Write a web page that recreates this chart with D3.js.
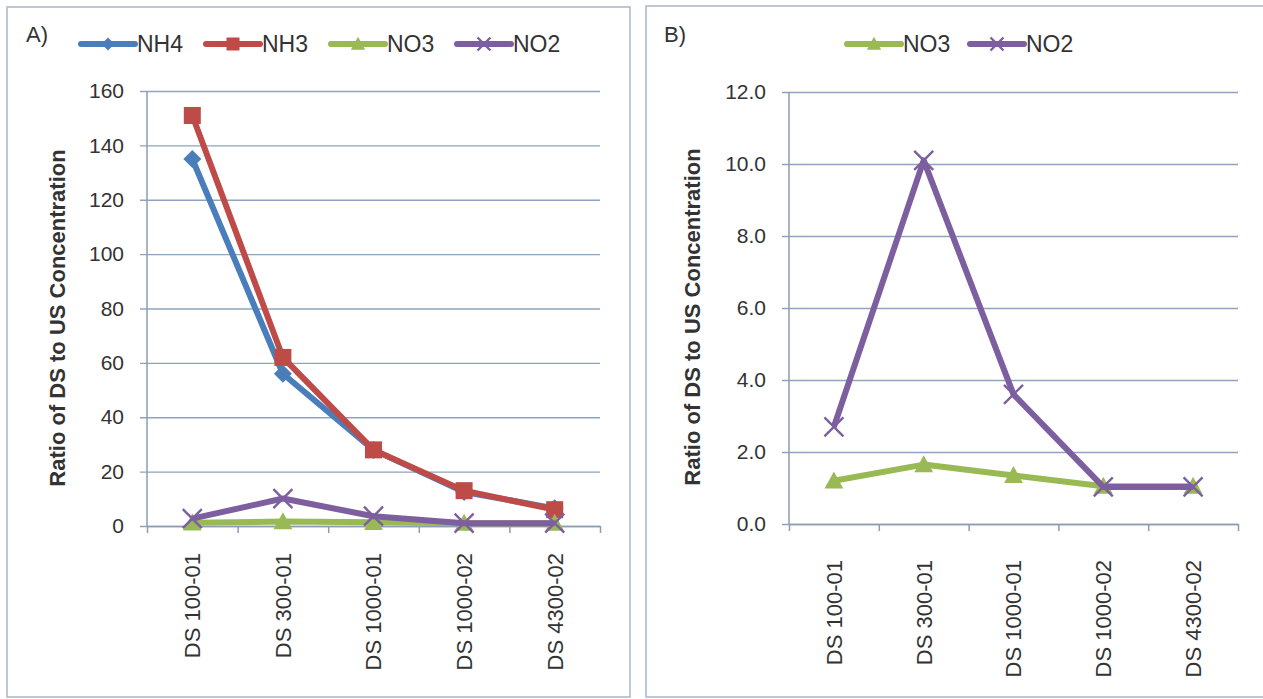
<!DOCTYPE html>
<html lang="en">
<head>
<meta charset="UTF-8">
<title>Ratio of DS to US Concentration</title>
<script src="https://d3js.org/d3.v7.min.js"></script>
<style>
  body { margin: 0; background: #fff; }
  svg { display: block; }
  text { font-family: "Liberation Sans", Arial, sans-serif; fill: #333; }
</style>
</head>
<body>
<div id="chart"></div>
<script>
// data
const categories = ["DS 100-01", "DS 300-01", "DS 1000-01", "DS 1000-02", "DS 4300-02"];
const nh4 = [135, 56, 28, 12.5, 6.5];
const nh3 = [151, 62, 28, 13, 6];
const no3 = [1.2, 1.65, 1.35, 1.05, 1.05];
const no2 = [2.7, 10.1, 3.6, 1.03, 1.03];
const ticksA = [0, 20, 40, 60, 80, 100, 120, 140, 160];
const ticksB = [0, 2, 4, 6, 8, 10, 12];

const colors = { NH4: "#4a7ebb", NH3: "#be4b48", NO3: "#98b954", NO2: "#7d5fa0" };
const markers = { NH4: "diamond", NH3: "square", NO3: "triangle", NO2: "cross" };

const W = 1263, H = 699;
const svg = d3.select("#chart").append("svg").attr("width", W).attr("height", H);

// panel frames
svg.append("rect").attr("x", 7).attr("y", 7).attr("width", 623).attr("height", 690)
  .attr("fill", "none").attr("stroke", "#a9b6c8").attr("stroke-width", 1.5);
svg.append("rect").attr("x", 646).attr("y", 6).attr("width", 640).attr("height", 691)
  .attr("fill", "none").attr("stroke", "#a9b6c8").attr("stroke-width", 1.5);

function marker(g, type, color, s) {
  const h = s / 2;
  if (type === "diamond") {
    g.append("path").attr("d", `M0,${-h}L${h},0L0,${h}L${-h},0Z`).attr("fill", color);
  } else if (type === "square") {
    g.append("rect").attr("x", -h).attr("y", -h).attr("width", s).attr("height", s)
      .attr("fill", color);
  } else if (type === "triangle") {
    g.append("path").attr("d", `M0,${-s * 0.55}L${s * 0.55},${s * 0.45}L${-s * 0.55},${s * 0.45}Z`)
      .attr("fill", color);
  } else {
    g.append("path").attr("d", `M${-h},${-h}L${h},${h}M${-h},${h}L${h},${-h}`)
      .attr("stroke", color).attr("stroke-width", 2.4).attr("fill", "none");
  }
}

function drawPanel(p) {
  const g = svg.append("g");
  const x = d3.scaleLinear().domain([0, categories.length]).range([p.left, p.right]);
  const y = d3.scaleLinear().domain([0, p.max]).range([p.bottom, p.top]);

  // gridlines + y ticks
  g.append("g").attr("transform", `translate(${p.left},0)`)
    .call(d3.axisLeft(y).tickValues(p.ticks).tickFormat(p.fmt)
      .tickSize(-(p.right - p.left)).tickSizeOuter(0).tickPadding(23))
    .call(a => a.select(".domain").remove())
    .call(a => a.selectAll(".tick line").attr("x1", -7).attr("stroke", "#8ea3bf").attr("stroke-width", 1.4))
    .call(a => a.selectAll(".tick text").attr("font-size", 21).attr("fill", "#333")
      .style("font-family", "Liberation Sans, Arial, sans-serif"));

  // y axis line
  g.append("line").attr("x1", p.left).attr("x2", p.left).attr("y1", p.top).attr("y2", p.bottom)
    .attr("stroke", "#8c9cb2").attr("stroke-width", 1.5);

  // x axis with boundary ticks
  g.append("g").attr("transform", `translate(0,${p.bottom})`)
    .call(d3.axisBottom(x).tickValues(d3.range(categories.length + 1)).tickFormat("")
      .tickSize(7).tickSizeOuter(0))
    .call(a => a.select(".domain").attr("stroke", "#8c9cb2").attr("stroke-width", 1.5))
    .call(a => a.selectAll(".tick line").attr("stroke", "#8c9cb2").attr("stroke-width", 1.5));

  // category labels, rotated
  g.selectAll(".cat").data(categories).join("text")
    .attr("transform", (d, i) => `translate(${x(i + 0.5)},${p.labelTop}) rotate(-90)`)
    .attr("text-anchor", "end").attr("dy", "0.36em")
    .attr("font-size", 22).text(d => d);

  // y title
  g.append("text")
    .attr("transform", `translate(${p.titleX},${p.titleY}) rotate(-90)`)
    .attr("text-anchor", "middle").attr("dy", "0.35em")
    .attr("font-size", 22).attr("font-weight", "bold").text("Ratio of DS to US Concentration");

  // panel letter
  g.append("text").attr("x", p.letterX).attr("y", 42).attr("font-size", 22).text(p.letter);

  // series
  const line = d3.line().x((d, i) => x(i + 0.5)).y(d => y(d));
  p.series.forEach(s => {
    g.append("path").datum(s.values).attr("d", line)
      .attr("fill", "none").attr("stroke", colors[s.name]).attr("stroke-width", 6)
      .attr("stroke-linejoin", "round");
    s.values.forEach((v, i) => {
      const m = g.append("g").attr("transform", `translate(${x(i + 0.5)},${y(v)})`);
      marker(m, markers[s.name], colors[s.name], s.name === "NO2" ? 19 : s.name === "NH4" ? 18 : 17);
    });
  });

  // legend
  p.series.forEach((s, i) => {
    const lx = p.legendX[i];
    const lg = g.append("g").attr("transform", `translate(${lx},44)`);
    lg.append("line").attr("x1", 0).attr("x2", 54).attr("stroke", colors[s.name])
      .attr("stroke-width", 6).attr("stroke-linecap", "round");
    const m = lg.append("g").attr("transform", "translate(27,0)");
    marker(m, markers[s.name], colors[s.name], 13);
    lg.append("text").attr("x", 56).attr("dy", "0.36em").attr("font-size", 23).text(s.name);
  });
}

drawPanel({
  left: 147, right: 600, top: 91, bottom: 526, max: 160, ticks: ticksA, fmt: d3.format("d"),
  labelTop: 553, titleX: 57, titleY: 318, letter: "A)", letterX: 26,
  legendX: [81, 206, 331, 457],
  series: [
    { name: "NH4", values: nh4 },
    { name: "NH3", values: nh3 },
    { name: "NO3", values: no3 },
    { name: "NO2", values: no2 }
  ]
});

drawPanel({
  left: 789, right: 1238, top: 92, bottom: 524, max: 12, ticks: ticksB, fmt: d3.format(".1f"),
  labelTop: 560, titleX: 692, titleY: 317, letter: "B)", letterX: 664,
  legendX: [847, 970],
  series: [
    { name: "NO3", values: no3 },
    { name: "NO2", values: no2 }
  ]
});
</script>
</body>
</html>
